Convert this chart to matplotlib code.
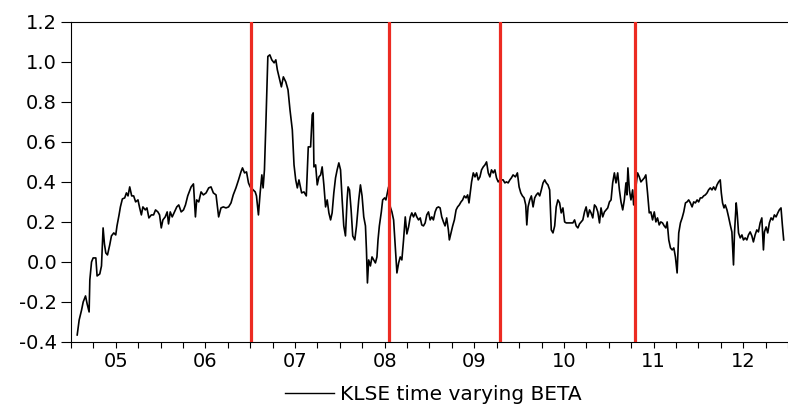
import numpy as np
import matplotlib
matplotlib.use('Agg')
import matplotlib.pyplot as plt
from matplotlib.lines import Line2D

# weekly time varying beta of KLSE (decimal years)
dates = [
    2005.070, 2005.092, 2005.119, 2005.137, 2005.163, 2005.181, 2005.203, 2005.211, 2005.230, 2005.248,
    2005.278, 2005.292, 2005.322, 2005.341, 2005.359, 2005.374, 2005.389, 2005.408, 2005.433, 2005.452,
    2005.478, 2005.500, 2005.514, 2005.537, 2005.552, 2005.574, 2005.600, 2005.619, 2005.637, 2005.656,
    2005.678, 2005.700, 2005.722, 2005.748, 2005.767, 2005.786, 2005.803, 2005.830, 2005.848, 2005.870,
    2005.897, 2005.922, 2005.944, 2005.970, 2005.989, 2006.008, 2006.026, 2006.052, 2006.074, 2006.089,
    2006.108, 2006.130, 2006.156, 2006.181, 2006.203, 2006.230, 2006.256, 2006.278, 2006.303,
    2006.341, 2006.367, 2006.389, 2006.403, 2006.426, 2006.452, 2006.478, 2006.508, 2006.537, 2006.563,
    2006.589, 2006.619, 2006.648, 2006.674, 2006.700, 2006.730, 2006.759, 2006.786, 2006.811, 2006.841,
    2006.870, 2006.897, 2006.914, 2006.937, 2006.959, 2006.981, 2007.000, 2007.056, 2007.070, 2007.092,
    2007.111, 2007.130, 2007.144, 2007.159, 2007.174, 2007.197, 2007.219, 2007.241, 2007.267, 2007.286,
    2007.303, 2007.322, 2007.348, 2007.370, 2007.397, 2007.422, 2007.444, 2007.470, 2007.489, 2007.508,
    2007.526, 2007.544, 2007.574, 2007.600, 2007.626, 2007.648,
    2007.674, 2007.692, 2007.703, 2007.711, 2007.730, 2007.748, 2007.767, 2007.786, 2007.803, 2007.822,
    2007.841, 2007.859, 2007.878, 2007.897, 2007.914, 2007.933, 2007.952, 2007.970, 2007.989, 2008.008,
    2008.026, 2008.044, 2008.063, 2008.081, 2008.092, 2008.108, 2008.126, 2008.144, 2008.167, 2008.186,
    2008.211, 2008.230, 2008.248, 2008.267, 2008.286, 2008.297, 2008.308, 2008.322, 2008.341, 2008.359,
    2008.378, 2008.397, 2008.414, 2008.426, 2008.441, 2008.463, 2008.478, 2008.500, 2008.514, 2008.530,
    2008.544, 2008.563, 2008.581, 2008.600, 2008.619, 2008.637, 2008.656, 2008.674, 2008.692, 2008.711,
    2008.730, 2008.748, 2008.767, 2008.786, 2008.803, 2008.822, 2008.841, 2008.859, 2008.878, 2008.897,
    2008.914, 2008.933, 2008.952, 2008.970,
    2008.989, 2009.008, 2009.026, 2009.044, 2009.063, 2009.081, 2009.100, 2009.119, 2009.137, 2009.156,
    2009.174, 2009.192, 2009.211, 2009.222, 2009.241, 2009.259, 2009.278, 2009.297, 2009.314, 2009.333,
    2009.352, 2009.370, 2009.389, 2009.408, 2009.426, 2009.441, 2009.459, 2009.470, 2009.489, 2009.508,
    2009.526, 2009.544, 2009.563, 2009.581, 2009.600, 2009.619, 2009.637, 2009.656, 2009.674, 2009.692,
    2009.711, 2009.730, 2009.748, 2009.767, 2009.786, 2009.822, 2009.841, 2009.859, 2009.878, 2009.897,
    2009.914, 2009.933, 2009.959, 2009.981, 2010.000, 2010.019, 2010.037, 2010.056, 2010.074, 2010.086,
    2010.100, 2010.119, 2010.137, 2010.156, 2010.174, 2010.192, 2010.211, 2010.230, 2010.248, 2010.267,
    2010.286, 2010.303,
    2010.322, 2010.341, 2010.359, 2010.378, 2010.397, 2010.414, 2010.433, 2010.452, 2010.470, 2010.489,
    2010.508, 2010.526, 2010.563, 2010.600, 2010.619, 2010.637, 2010.656, 2010.674, 2010.692, 2010.711,
    2010.730, 2010.748, 2010.767, 2010.786, 2010.803, 2010.822, 2010.841, 2010.859, 2010.878, 2010.897,
    2010.914, 2010.933, 2010.952, 2010.970, 2010.989, 2011.008, 2011.026, 2011.044, 2011.063, 2011.081,
    2011.100, 2011.119, 2011.137, 2011.156, 2011.174, 2011.192, 2011.203, 2011.214, 2011.230, 2011.248,
    2011.267, 2011.278, 2011.322, 2011.341, 2011.359, 2011.378, 2011.397, 2011.414, 2011.433, 2011.452,
    2011.470, 2011.489, 2011.508, 2011.526, 2011.544, 2011.563, 2011.581, 2011.600, 2011.619,
    2011.637, 2011.652, 2011.670, 2011.689, 2011.708, 2011.726, 2011.744, 2011.763, 2011.774, 2011.781,
    2011.800, 2011.819, 2011.837, 2011.856, 2011.874, 2011.892, 2011.911, 2011.930, 2011.948, 2011.967,
    2011.986, 2012.003, 2012.022, 2012.041, 2012.059, 2012.078, 2012.097, 2012.114, 2012.133, 2012.152,
    2012.170, 2012.189, 2012.208, 2012.226, 2012.244, 2012.256, 2012.270, 2012.286, 2012.300, 2012.319,
    2012.337, 2012.356, 2012.374, 2012.392, 2012.403, 2012.422, 2012.433, 2012.448, 2012.467, 2012.486,
    2012.503, 2012.522, 2012.541, 2012.559, 2012.578, 2012.597, 2012.614, 2012.633, 2012.652, 2012.670,
    2012.689, 2012.708, 2012.726, 2012.737, 2012.756, 2012.774, 2012.792, 2012.811, 2012.830, 2012.848,
    2012.867, 2012.886, 2012.903, 2012.922, 2012.937, 2012.952,
]

beta = [
    -0.365, -0.29, -0.24, -0.20, -0.17, -0.21, -0.25, -0.09, 0.00, 0.02,
    0.02, -0.07, -0.06, -0.02, 0.17, 0.09, 0.045, 0.035, 0.085, 0.13,
    0.145, 0.135, 0.18, 0.235, 0.275, 0.315, 0.32, 0.345, 0.33, 0.375,
    0.33, 0.33, 0.30, 0.31, 0.27, 0.235, 0.275, 0.26, 0.27, 0.22,
    0.235, 0.235, 0.26, 0.25, 0.235, 0.17, 0.21, 0.225, 0.25, 0.19,
    0.25, 0.225, 0.25, 0.275, 0.285, 0.25, 0.26, 0.285, 0.33,
    0.375, 0.39, 0.225, 0.31, 0.30, 0.35, 0.335, 0.345, 0.37, 0.375,
    0.345, 0.335, 0.225, 0.27, 0.275, 0.27, 0.275, 0.295, 0.335, 0.37,
    0.41, 0.45, 0.47, 0.445, 0.45, 0.395, 0.375, 0.35, 0.33, 0.235,
    0.345, 0.435, 0.37, 0.46, 0.675, 1.027, 1.035, 1.01, 0.995, 1.01,
    0.96, 0.925, 0.875, 0.925, 0.90, 0.86, 0.76, 0.66, 0.485, 0.41,
    0.37, 0.41, 0.345, 0.35, 0.33, 0.575,
    0.575, 0.735, 0.745, 0.475, 0.485, 0.385, 0.425, 0.435, 0.475, 0.385,
    0.275, 0.31, 0.245, 0.21, 0.245, 0.345, 0.42, 0.46, 0.495, 0.46,
    0.31, 0.18, 0.13, 0.31, 0.375, 0.36, 0.26, 0.13, 0.11, 0.18,
    0.31, 0.385, 0.33, 0.225, 0.18, 0.06, -0.105, 0.01, -0.02, 0.025,
    0.01, -0.005, 0.025, 0.11, 0.18, 0.25, 0.31, 0.32, 0.31, 0.345,
    0.375, 0.275, 0.25, 0.21, 0.075, -0.055, -0.005, 0.025, 0.01, 0.11,
    0.225, 0.14, 0.175, 0.225, 0.245, 0.225, 0.245, 0.225, 0.21, 0.22,
    0.185, 0.18, 0.195, 0.235,
    0.25, 0.21, 0.225, 0.21, 0.25, 0.27, 0.275, 0.27, 0.225, 0.20,
    0.18, 0.22, 0.16, 0.11, 0.145, 0.18, 0.21, 0.26, 0.275, 0.285,
    0.30, 0.31, 0.33, 0.32, 0.335, 0.295, 0.36, 0.40, 0.445, 0.425,
    0.445, 0.41, 0.425, 0.46, 0.475, 0.485, 0.50, 0.445, 0.425, 0.46,
    0.445, 0.46, 0.42, 0.40, 0.41, 0.41, 0.395, 0.40, 0.395, 0.41,
    0.42, 0.435, 0.425, 0.445, 0.375, 0.345, 0.33, 0.32, 0.285, 0.185,
    0.275, 0.31, 0.33, 0.275, 0.32, 0.335, 0.345, 0.33, 0.36, 0.395,
    0.41, 0.395,
    0.385, 0.36, 0.16, 0.145, 0.18, 0.275, 0.31, 0.295, 0.245, 0.27,
    0.20, 0.195, 0.195, 0.195, 0.21, 0.18, 0.17, 0.19, 0.20, 0.21,
    0.25, 0.275, 0.225, 0.26, 0.245, 0.22, 0.285, 0.275, 0.25, 0.195,
    0.27, 0.225, 0.25, 0.26, 0.27, 0.30, 0.31, 0.395, 0.445, 0.395,
    0.445, 0.36, 0.30, 0.26, 0.31, 0.395, 0.335, 0.47, 0.36, 0.31,
    0.36, 0.285, 0.445, 0.425, 0.40, 0.41, 0.42, 0.435, 0.345, 0.245,
    0.25, 0.21, 0.25, 0.20, 0.22, 0.185, 0.20, 0.195, 0.18,
    0.17, 0.20, 0.11, 0.07, 0.06, 0.07, 0.025, -0.055, 0.06, 0.145,
    0.195, 0.22, 0.25, 0.295, 0.30, 0.31, 0.295, 0.275, 0.30, 0.295,
    0.31, 0.30, 0.32, 0.32, 0.33, 0.335, 0.345, 0.36, 0.37, 0.36,
    0.375, 0.36, 0.385, 0.40, 0.41, 0.345, 0.295, 0.27, 0.285, 0.26,
    0.225, 0.185, 0.15, -0.015, 0.145, 0.295, 0.245, 0.145, 0.12, 0.135,
    0.11, 0.12, 0.11, 0.135, 0.15, 0.13, 0.10, 0.135, 0.16, 0.15,
    0.195, 0.22, 0.06, 0.15, 0.175, 0.145, 0.195, 0.22, 0.21, 0.235,
    0.225, 0.245, 0.26, 0.27, 0.185, 0.11,
]

# structural break dates marked in red
breaks = [2007.011, 2008.544, 2009.789, 2011.289]

year_labels = ['05', '06', '07', '08', '09', '10', '11', '12']
first_year = 2005

plt.rcParams['font.family'] = 'DejaVu Sans'

fig = plt.figure(figsize=(7.88, 4.12), dpi=100)
ax = fig.add_axes([0.090, 0.170, 0.910, 0.777])

ax.plot(dates, beta, color='black', linewidth=1.2)
for b in breaks:
    ax.axvline(b, color='#ec2b22', linewidth=2.3, zorder=3)

ax.set_xlim(first_year, first_year + 717 / 90)
ax.set_ylim(-0.4, 1.2)

ax.set_yticks(np.arange(-0.4, 1.21, 0.2))
ax.set_yticklabels(['%.1f' % v for v in np.arange(-0.4, 1.21, 0.2)])
ax.tick_params(axis='y', direction='out', length=7, width=0.8, pad=3, labelsize=14)

# quarter ticks, year labels in the middle of each year
ax.xaxis.remove_overlapping_locs = False
ax.set_xticks(np.arange(first_year, first_year + 8.01, 0.25))
ax.set_xticklabels([])
ax.set_xticks([first_year + i + 0.5 for i in range(len(year_labels))], minor=True)
ax.set_xticklabels(year_labels, minor=True)
ax.tick_params(axis='x', which='major', direction='out', length=4, width=0.8)
ax.tick_params(axis='x', which='minor', length=0, pad=7, labelsize=14)

ax.spines['right'].set_visible(False)
for s in ['left', 'bottom', 'top']:
    ax.spines[s].set_linewidth(0.8)

handle = Line2D([], [], color='black', linewidth=1.0)
fig.legend([handle], ['KLSE time varying BETA'], loc='center',
           bbox_to_anchor=(0.55, 0.042), frameon=False, fontsize=14.5,
           handlelength=2.4, handletextpad=0.3)

fig.savefig('out.png', dpi=100)
